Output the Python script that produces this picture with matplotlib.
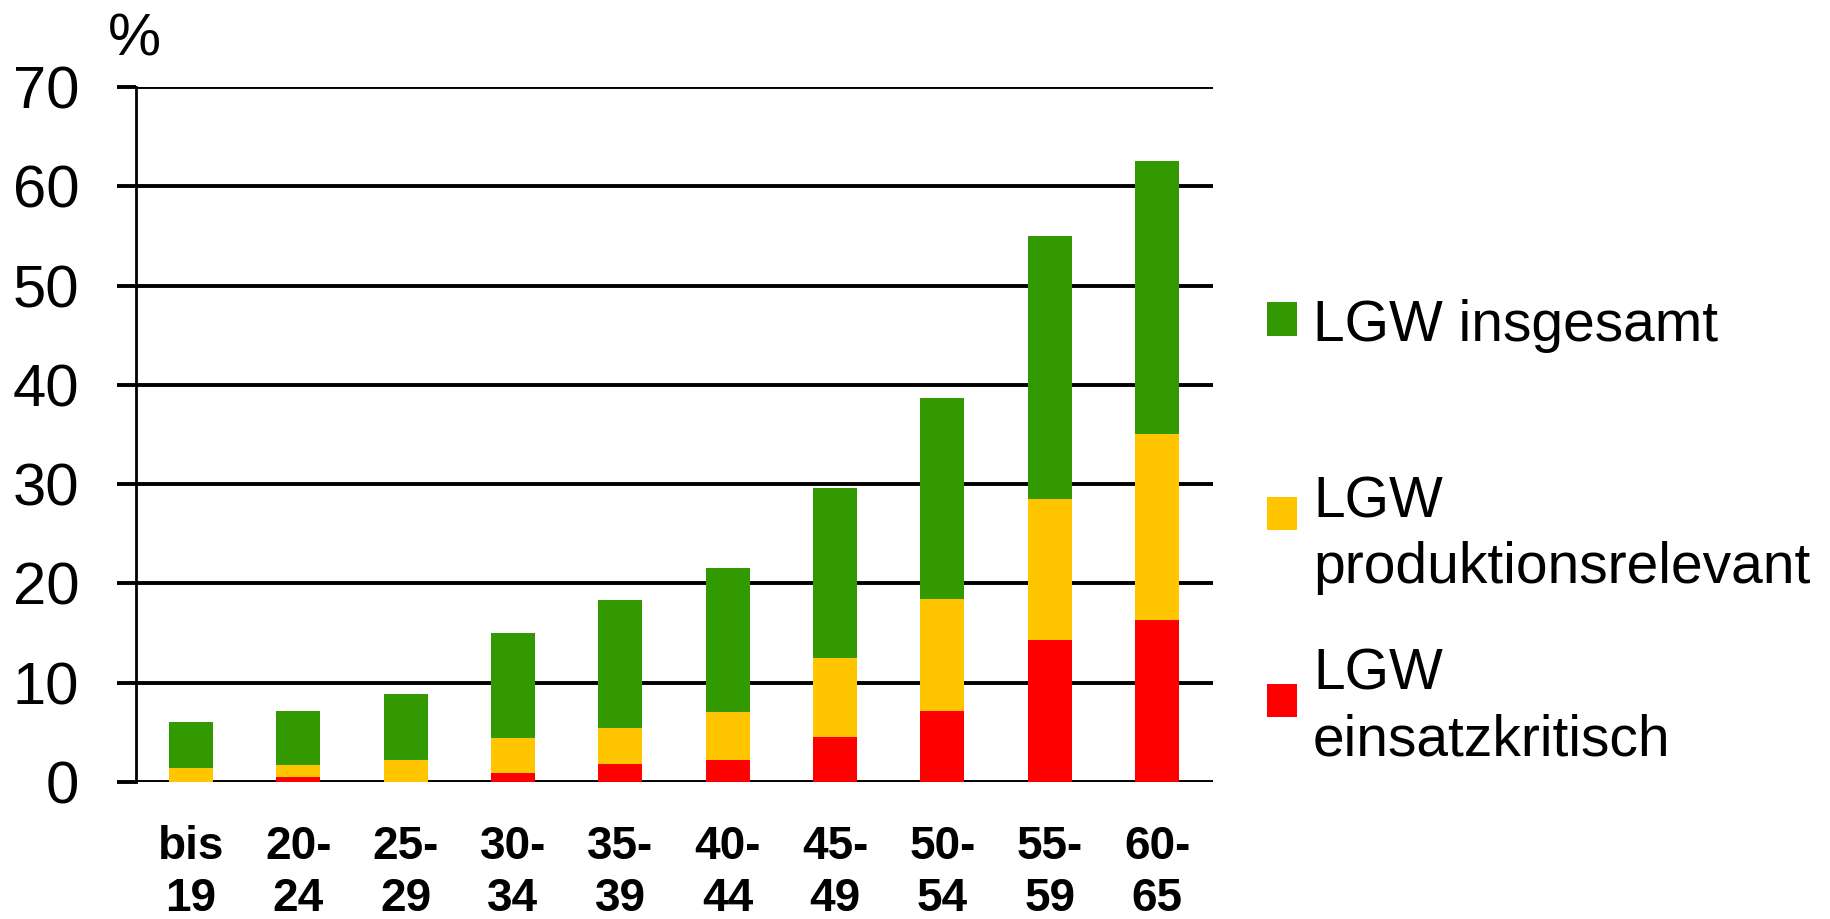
import matplotlib
matplotlib.use("Agg")
import matplotlib.pyplot as plt
from matplotlib.patches import Rectangle

plt.rcParams['font.family'] = ['Liberation Sans', 'DejaVu Sans']

# Age groups and shares (%) of employees with reduced work capacity
age_groups = ["bis\n19", "20-\n24", "25-\n29", "30-\n34", "35-\n39",
              "40-\n44", "45-\n49", "50-\n54", "55-\n59", "60-\n65"]
lgw_total = [6.0, 7.2, 8.9, 15.0, 18.3, 21.6, 29.6, 38.7, 55.0, 62.5]
lgw_production = [1.45, 1.7, 2.25, 4.4, 5.45, 7.1, 12.5, 18.4, 28.5, 35.1]
lgw_critical = [0.0, 0.55, 0.0, 0.95, 1.8, 2.2, 4.5, 7.2, 14.3, 16.3]

series_labels = ["LGW insgesamt", "LGW\nproduktionsrelevant", "LGW\neinsatzkritisch"]
colors = ["#339900", "#FFC600", "#FF0000"]

W, H = 1830, 919
fig = plt.figure(figsize=(W / 100, H / 100), dpi=100)
ax = fig.add_axes([136 / W, 1 - 782 / H, (1213 - 136) / W, (782 - 87) / H])

x = list(range(len(age_groups)))
bar_w = 0.41
for vals, col in zip([lgw_total, lgw_production, lgw_critical], colors):
    ax.bar(x, vals, width=bar_w, color=col, edgecolor="none", zorder=3)

ax.set_xlim(-0.51, 9.52)
ax.set_ylim(0, 70)
ax.set_yticks(range(0, 71, 10))
ax.yaxis.grid(True, color="black", linewidth=2.8, zorder=1)
ax.set_axisbelow(True)

for s in ["top", "right", "bottom"]:
    ax.spines[s].set_visible(False)
ax.spines["left"].set_linewidth(2.0)
ax.spines["left"].set_zorder(2)

ax.tick_params(axis="y", length=13.7, width=2.8, pad=27, labelsize=43)
ax.set_xticks(x)
ax.set_xticklabels(age_groups, fontsize=33, fontweight="bold", linespacing=1.22)
ax.tick_params(axis="x", length=0, pad=31)

# unit label above the value axis
fig.text(134 / W, 1 - 55 / H, "%", fontsize=43, ha="center", va="baseline")

# legend: coloured squares with labels
items = [(319, [320]), (513, [497, 562]), (700, [669, 735])]
for (sq_y, line_ys), label, col in zip(items, series_labels, colors):
    fig.patches.append(Rectangle((1267 / W, 1 - (sq_y + 16.5) / H), 30 / W, 33 / H,
                                 transform=fig.transFigure, facecolor=col,
                                 edgecolor="none"))
    for ly, line in zip(line_ys, label.split("\n")):
        fig.text(1313 / W, 1 - ly / H, line, fontsize=41, ha="left",
                 va="center_baseline")

fig.savefig("out.png", dpi=100)
